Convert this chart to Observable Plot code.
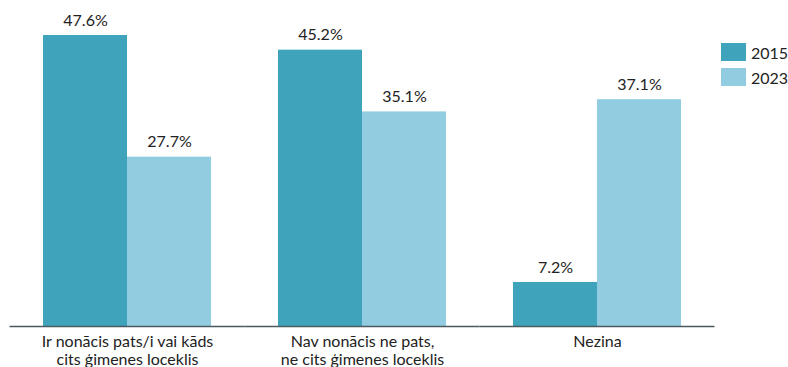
<!DOCTYPE html>
<html>
<head>
<meta charset="utf-8">
<script src="https://cdn.jsdelivr.net/npm/d3@7"></script>
<script src="https://cdn.jsdelivr.net/npm/@observablehq/plot@0.6"></script>
<style>
  body { margin: 0; background: #fff; font-family: Lato, "Open Sans", sans-serif; }
  #wrap { position: relative; width: 788px; height: 367px; }
  #legend { position: absolute; left: 721px; top: 43px; font-size: 16px; color: #222; }
  .row { display: flex; align-items: center; height: 18px; margin-bottom: 7px; }
  .sw { width: 25px; height: 18px; margin-right: 5px; }
</style>
</head>
<body>
<div id="wrap"><div id="legend"></div></div>
<script>
const categories = ["Ir nonācis pats/i vai kāds\ncits ģimenes loceklis", "Nav nonācis ne pats,\nne cits ģimenes loceklis", "Nezina"];
const years = ["2015", "2023"];
const values2015 = [47.6, 45.2, 7.2];
const values2023 = [27.7, 35.1, 37.1];
const colors = ["#3fa3bb", "#92cce0"];

const data = [];
categories.forEach((c, i) => {
  data.push({category: c, year: years[0], value: values2015[i]});
  data.push({category: c, year: years[1], value: values2023[i]});
});

const chart = Plot.plot({
  width: 788,
  height: 367,
  marginTop: 35,
  marginBottom: 41,
  marginLeft: 9.5,
  marginRight: 73.5,
  style: {fontFamily: "Lato, 'Open Sans', sans-serif", fontSize: "16px", color: "#222", background: "#fff"},
  y: {domain: [0, 47.6], axis: null},
  x: {domain: years, padding: 0, round: false, axis: null},
  fx: {domain: categories, paddingInner: 0.285, paddingOuter: 0.1426, round: false, axis: null, label: null},
  color: {domain: years, range: colors},
  marks: [
    Plot.barY(data, {fx: "category", x: "year", y: "value", fill: "year"}),
    Plot.text(data, {fx: "category", x: "year", y: "value", text: d => d.value.toFixed(1) + "%", dy: -15, fontSize: 16, fill: "#222"}),
    Plot.ruleY([0], {stroke: "#4b5a5f", strokeWidth: 1.3, insetLeft: -33.5, insetRight: -33.5}),
    Plot.axisFx({anchor: "bottom", tickSize: 0, tickPadding: 7, fontSize: 16, lineHeight: 1.15, label: null, fill: "#222"})
  ]
});
document.getElementById("wrap").prepend(chart);

const legend = document.getElementById("legend");
years.forEach((y, i) => {
  const row = document.createElement("div");
  row.className = "row";
  const sw = document.createElement("div");
  sw.className = "sw";
  sw.style.background = colors[i];
  const t = document.createElement("span");
  t.textContent = y;
  row.appendChild(sw);
  row.appendChild(t);
  legend.appendChild(row);
});
</script>
</body>
</html>
